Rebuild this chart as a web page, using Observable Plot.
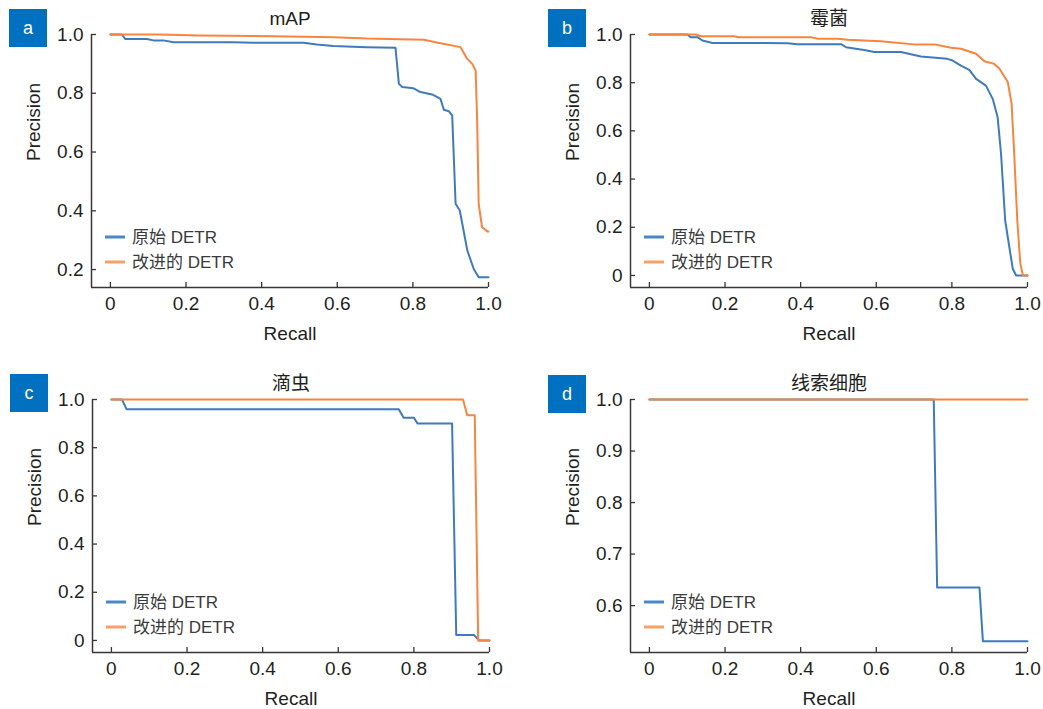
<!DOCTYPE html>
<html><head><meta charset="utf-8">
<script src="https://cdn.jsdelivr.net/npm/d3@7"></script>
<script src="https://cdn.jsdelivr.net/npm/@observablehq/plot@0.6"></script>
<style>
html,body{margin:0;padding:0;background:#fff;overflow:hidden}
#root{position:relative;width:1043px;height:709px;font-family:"Liberation Sans",Arial,"Noto Sans CJK SC",sans-serif}
.panel{position:absolute}
.badge{position:absolute;width:38px;height:38px;background:#0070c0;color:#fff;font-size:18px;display:flex;align-items:center;justify-content:center;font-family:"Liberation Sans",Arial,sans-serif}
</style></head><body><div id="root"></div>
<script>
// ---- data ----
const seriesNames = ["原始 DETR", "改进的 DETR"];
const panelLetters = ["a", "b", "c", "d"];
const panelTitles = ["mAP", "霉菌", "滴虫", "线索细胞"];
const xTicks = [0, 0.2, 0.4, 0.6, 0.8, 1.0];
const yTicksA = [0.2, 0.4, 0.6, 0.8, 1.0];
const yTicksB = [0, 0.2, 0.4, 0.6, 0.8, 1.0];
const yTicksC = [0, 0.2, 0.4, 0.6, 0.8, 1.0];
const yTicksD = [0.6, 0.7, 0.8, 0.9, 1.0];

// [recall, precision]
const mapBase = [[0,1.0],[0.03,1.0],[0.039,0.985],[0.096,0.985],[0.114,0.98],[0.14,0.98],[0.167,0.974],[0.325,0.974],[0.378,0.972],[0.511,0.972],[0.546,0.966],[0.59,0.961],[0.678,0.957],[0.754,0.955],[0.763,0.832],[0.772,0.821],[0.802,0.817],[0.82,0.804],[0.851,0.796],[0.873,0.781],[0.882,0.744],[0.895,0.739],[0.904,0.724],[0.913,0.424],[0.924,0.401],[0.944,0.265],[0.961,0.202],[0.974,0.174],[1.0,0.174]];
const mapImproved = [[0,1.0],[0.131,1.0],[0.237,0.997],[0.431,0.994],[0.59,0.991],[0.678,0.986],[0.766,0.984],[0.829,0.982],[0.873,0.970],[0.926,0.957],[0.944,0.917],[0.957,0.9],[0.966,0.877],[0.970,0.707],[0.974,0.424],[0.983,0.344],[0.997,0.33],[1.0,0.33]];

const mouldBase = [[0,1.0],[0.1,1.0],[0.109,0.989],[0.127,0.989],[0.14,0.975],[0.167,0.965],[0.365,0.964],[0.392,0.96],[0.507,0.96],[0.52,0.947],[0.568,0.936],[0.595,0.927],[0.665,0.927],[0.718,0.909],[0.788,0.899],[0.802,0.892],[0.824,0.871],[0.846,0.853],[0.864,0.816],[0.89,0.788],[0.908,0.733],[0.921,0.657],[0.93,0.505],[0.941,0.228],[0.952,0.117],[0.961,0.028],[0.97,0],[1.0,0]];
const mouldImproved = [[0,1.0],[0.123,1.0],[0.136,0.993],[0.224,0.993],[0.237,0.989],[0.427,0.989],[0.445,0.982],[0.498,0.982],[0.524,0.978],[0.612,0.972],[0.7,0.959],[0.754,0.959],[0.798,0.945],[0.824,0.941],[0.864,0.92],[0.886,0.889],[0.912,0.878],[0.926,0.858],[0.948,0.802],[0.958,0.712],[0.965,0.5],[0.973,0.228],[0.981,0.049],[0.988,0],[1.0,0]];

const trichBase = [[0,1],[0.028,1],[0.04,0.96],[0.76,0.96],[0.773,0.924],[0.8,0.924],[0.81,0.9],[0.901,0.9],[0.912,0.023],[0.959,0.023],[0.972,0],[1,0]];
const trichImproved = [[0,1],[0.93,1],[0.941,0.935],[0.961,0.935],[0.97,0],[1,0]];

const clueBase = [[0,1],[0.752,1],[0.761,0.635],[0.873,0.635],[0.882,0.531],[1,0.531]];
const clueImproved = [[0,1],[1,1]];

// ---- style ----
const BLUE = "#3f7bbb", ORANGE = "#f7853d";
const BLUE_L = "#4a86c5", ORANGE_L = "#f9a066";
const AXIS = "#3b3536", TEXT = "#231f20";
const FONT = '"Liberation Sans", Arial, "Noto Sans CJK SC", sans-serif';
const PW = 397, PH = 253, SVGW = 520, SVGH = 344, MT = 34;

const fmt = d => d === 0 ? "0" : d.toFixed(1);

function makePanel({title, base, improved, yDomain, yTicks, ml}) {
  const legend = (index, scales, values, dims) => {
    const g = d3.create("svg:g").attr("font-size", 17).attr("fill", "#3a3a3a")
      .attr("font-family", FONT).attr("text-anchor", "start");
    const x0 = dims.marginLeft + 14, y0 = dims.marginTop + 203;
    [BLUE_L, ORANGE_L].forEach((c, i) => {
      const y = y0 + i * 25;
      g.append("line").attr("x1", x0).attr("x2", x0 + 20).attr("y1", y).attr("y2", y)
        .attr("stroke", c).attr("stroke-width", 3);
      g.append("text").attr("x", x0 + 27).attr("y", y).attr("dy", "0.36em")
        .attr("text-anchor", "start").text(seriesNames[i]);
    });
    return g.node();
  };
  return Plot.plot({
    width: SVGW, height: SVGH,
    marginLeft: ml, marginRight: SVGW - ml - PW, marginTop: MT, marginBottom: SVGH - MT - PH,
    x: {domain: [-0.05, 1]},
    y: {domain: yDomain},
    style: {fontFamily: FONT, fontSize: "19px", color: TEXT, background: "transparent", overflow: "visible"},
    marks: [
      Plot.axisX(xTicks, {tickSize: 0, tickPadding: 9, tickFormat: fmt, label: null, fontSize: 19, fill: TEXT}),
      Plot.axisY(yTicks, {tickSize: 0, tickPadding: 8, tickFormat: fmt, label: null, fontSize: 19, fill: TEXT}),
      Plot.ruleX(xTicks, {insetTop: PH - 5, stroke: AXIS, strokeWidth: 1.3}),
      Plot.ruleY(yTicks, {insetRight: PW - 5, stroke: AXIS, strokeWidth: 1.3}),
      Plot.ruleX([-0.05], {stroke: AXIS, strokeWidth: 1.5}),
      Plot.ruleY([yDomain[0]], {stroke: AXIS, strokeWidth: 1.5}),
      Plot.line(base, {x: d => d[0], y: d => d[1], stroke: BLUE, strokeWidth: 2}),
      Plot.line(improved, {x: d => d[0], y: d => d[1], stroke: ORANGE, strokeWidth: 2}),
      Plot.text([title], {frameAnchor: "top", lineAnchor: "middle", dy: -16, fontSize: 19, fill: TEXT}),
      Plot.text(["Recall"], {frameAnchor: "bottom", lineAnchor: "middle", dy: 46, fontSize: 19, fill: TEXT}),
      Plot.text(["Precision"], {frameAnchor: "left", lineAnchor: "middle", dx: -58, rotate: -90, fontSize: 19, fill: TEXT}),
      legend
    ]
  });
}

const root = document.getElementById("root");
const panels = [
  {title: panelTitles[0], base: mapBase, improved: mapImproved, yDomain: [0.139, 1.0], yTicks: yTicksA, ml: 91, left: 0, top: 0, badge: [9, 9]},
  {title: panelTitles[1], base: mouldBase, improved: mouldImproved, yDomain: [-0.05, 1.0], yTicks: yTicksB, ml: 110, left: 520, top: 0, badge: [548, 9]},
  {title: panelTitles[2], base: trichBase, improved: trichImproved, yDomain: [-0.05, 1.0], yTicks: yTicksC, ml: 92, left: 0, top: 365, badge: [10, 374]},
  {title: panelTitles[3], base: clueBase, improved: clueImproved, yDomain: [0.509, 1.0], yTicks: yTicksD, ml: 110, left: 520, top: 365, badge: [548, 375]}
];
panels.forEach((p, i) => {
  const wrap = document.createElement("div");
  wrap.className = "panel";
  wrap.style.left = p.left + "px";
  wrap.style.top = p.top + "px";
  wrap.appendChild(makePanel(p));
  root.appendChild(wrap);
  const b = document.createElement("div");
  b.className = "badge";
  b.style.left = p.badge[0] + "px";
  b.style.top = p.badge[1] + "px";
  b.textContent = panelLetters[i];
  root.appendChild(b);
});
</script>
</body></html>
